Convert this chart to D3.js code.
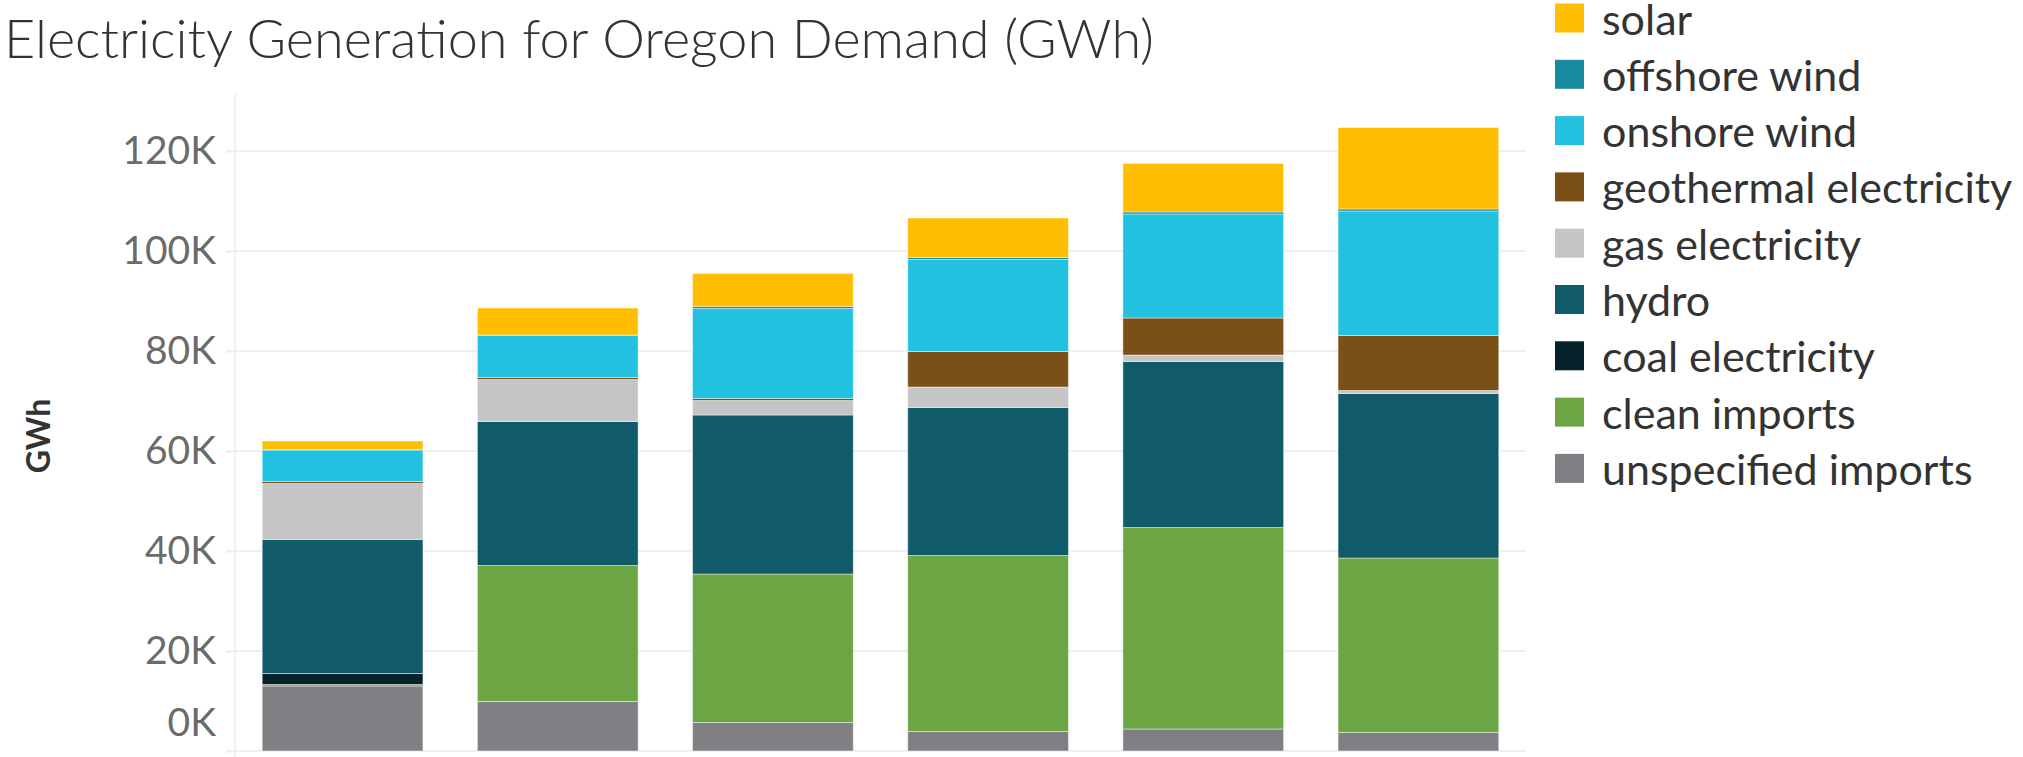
<!DOCTYPE html>
<html>
<head>
<meta charset="utf-8">
<script src="https://cdn.jsdelivr.net/npm/d3@7"></script>
<style>
  body { margin: 0; background: #fff; }
  svg { display: block; font-family: Lato, "Open Sans", sans-serif; }
</style>
</head>
<body>
<svg width="2023" height="757"></svg>
<script>
const svg = d3.select("svg");

// datos (GWh, en miles)
const categorias = ["1", "2", "3", "4", "5", "6"];
const fuentes = ["unspecified imports", "clean imports", "coal electricity", "hydro",
  "gas electricity", "geothermal electricity", "onshore wind", "offshore wind", "solar"];
const colores = ["#808084", "#6ca543", "#07222b", "#105a69",
  "#c5c5c7", "#7a5018", "#22c1df", "#178a9f", "#ffbf00"];

const unspecifiedImports = [13.0, 9.9, 5.7, 3.9, 4.4, 3.7];
const cleanImports       = [0.3, 27.2, 29.7, 35.2, 40.3, 34.9];
const coal               = [2.2, 0, 0, 0, 0, 0];
const hydro              = [26.8, 28.8, 31.8, 29.6, 33.2, 32.9];
const gas                = [11.2, 8.4, 2.9, 4.1, 1.3, 0.6];
const geothermal         = [0.4, 0.4, 0.4, 7.1, 7.4, 11.0];
const onshoreWind        = [6.3, 8.4, 18.0, 18.4, 20.8, 24.9];
const offshoreWind       = [0.1, 0.1, 0.4, 0.4, 0.4, 0.4];
const solar              = [1.7, 5.4, 6.6, 7.9, 9.7, 16.3];

const yTicks = [0, 20, 40, 60, 80, 100, 120];

const series = [unspecifiedImports, cleanImports, coal, hydro, gas,
  geothermal, onshoreWind, offshoreWind, solar];

// tabla para d3.stack
const tabla = categorias.map((c, i) => {
  const fila = { categoria: c };
  fuentes.forEach((f, j) => fila[f] = series[j][i] * 1000);
  return fila;
});
const pilas = d3.stack().keys(fuentes)(tabla);

const color = d3.scaleOrdinal().domain(fuentes).range(colores);

const x = d3.scaleBand()
  .domain(categorias)
  .range([235, 1526])
  .paddingInner(0.253)
  .paddingOuter(0.1265);

const y = d3.scaleLinear()
  .domain([0, 120000])
  .range([751, 151]);

// titulo
svg.append("text")
  .attr("x", 4)
  .attr("y", 58)
  .style("font-size", "54px")
  .style("font-weight", 300)
  .style("fill", "#333")
  .text("Electricity Generation for Oregon Demand (GWh)");

// lineas de la grilla
svg.append("g")
  .selectAll("line")
  .data(yTicks)
  .enter().append("line")
  .attr("x1", 235)
  .attr("x2", 1526)
  .attr("y1", d => y(d * 1000))
  .attr("y2", d => y(d * 1000))
  .style("stroke", "#f0f0f0")
  .style("stroke-width", 2);

// eje y
const ejeY = svg.append("g")
  .attr("transform", "translate(235,0)")
  .call(d3.axisLeft(y)
    .tickValues(yTicks.map(d => d * 1000))
    .tickSize(9)
    .tickPadding(10)
    .tickFormat(d => (d / 1000) + "K"));
ejeY.select(".domain").remove();
ejeY.selectAll(".tick line").style("stroke", "#ececec").style("stroke-width", 2);
ejeY.selectAll(".tick text")
  .style("font-family", "Lato, sans-serif")
  .style("font-size", "39px")
  .style("fill", "#6b6b6b");
// la etiqueta 0K se sube como en el original
ejeY.selectAll(".tick text").filter(d => d === 0).attr("dy", "-0.4em");

svg.append("line")
  .attr("x1", 235).attr("x2", 235)
  .attr("y1", 94).attr("y2", 757)
  .style("stroke", "#ececec")
  .style("stroke-width", 1.5);

// titulo del eje
svg.append("text")
  .attr("transform", "translate(50,436) rotate(-90)")
  .attr("text-anchor", "middle")
  .style("font-size", "32px")
  .style("font-weight", 700)
  .style("fill", "#333")
  .text("GWh");

// barras apiladas
svg.append("g")
  .selectAll("g")
  .data(pilas)
  .enter().append("g")
  .style("fill", d => color(d.key))
  .selectAll("rect")
  .data(d => d)
  .enter().append("rect")
  .attr("x", d => x(d.data.categoria))
  .attr("width", x.bandwidth())
  .attr("y", d => y(d[1]))
  .attr("height", d => y(d[0]) - y(d[1]))
  .style("stroke", "rgba(255,255,255,0.45)")
  .style("stroke-width", 1);

// leyenda
const leyenda = svg.append("g")
  .selectAll("g")
  .data(fuentes.slice().reverse())
  .enter().append("g")
  .attr("transform", (d, i) => `translate(1555,${3.5 + i * 56.3})`);

leyenda.append("rect")
  .attr("width", 29)
  .attr("height", 29)
  .style("fill", d => color(d));

leyenda.append("text")
  .attr("x", 47)
  .attr("y", 31)
  .style("font-size", "43px")
  .style("fill", "#333")
  .text(d => d);
</script>
</body>
</html>
